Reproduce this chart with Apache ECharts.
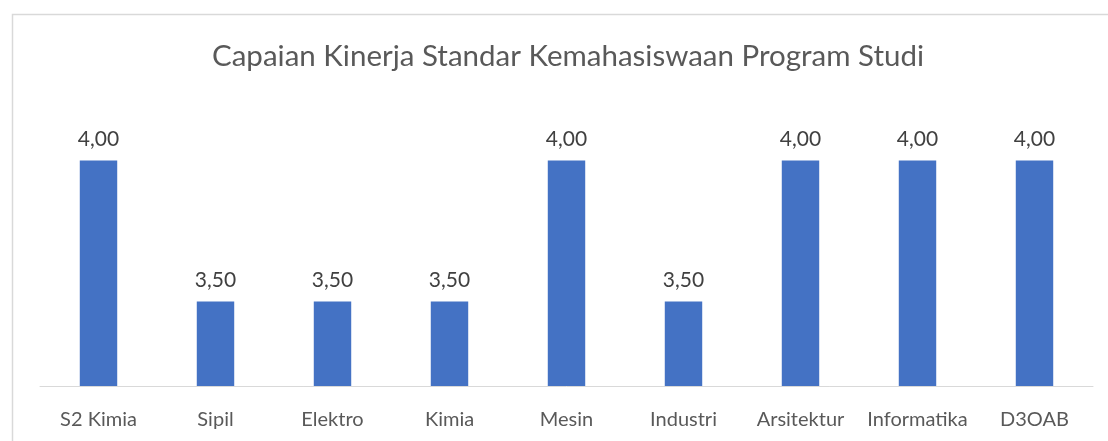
<!DOCTYPE html>
<html>
<head>
<meta charset="utf-8">
<script src="https://cdn.jsdelivr.net/npm/echarts@6/dist/echarts.min.js"></script>
<style>
  html, body { margin: 0; padding: 0; background: #fff; }
  #main { width: 1108px; height: 441px; }
</style>
</head>
<body>
<div id="main"></div>
<script>
const categories = ["S2 Kimia", "Sipil", "Elektro", "Kimia", "Mesin", "Industri", "Arsitektur", "Informatika", "D3OAB"];
const scores = [4.0, 3.5, 3.5, 3.5, 4.0, 3.5, 4.0, 4.0, 4.0];
const titleText = "Capaian Kinerja Standar Kemahasiswaan Program Studi";

const font = "Lato, 'Noto Sans', sans-serif";

var chart = echarts.init(document.getElementById("main"));
var option = {
  animation: false,
  title: {
    text: titleText,
    left: 207,
    top: 36,
    textStyle: {
      fontFamily: font,
      fontSize: 29.5,
      fontWeight: "normal",
      color: "#595959"
    }
  },
  graphic: [
    {
      type: "rect",
      left: 10,
      top: 12,
      shape: { width: 1110, height: 440 },
      style: { fill: "none", stroke: "#d9d9d9", lineWidth: 1.5 }
    }
  ],
  grid: { left: 40, right: 15, top: 104, bottom: 55 },
  xAxis: {
    type: "category",
    data: categories,
    axisTick: { show: false },
    axisLine: { lineStyle: { color: "#d9d9d9", width: 1 } },
    axisLabel: {
      interval: 0,
      margin: 24,
      fontFamily: font,
      fontSize: 20,
      color: "#595959"
    }
  },
  yAxis: {
    type: "value",
    min: 3.2,
    max: 4.2,
    show: false,
    splitLine: { show: false }
  },
  series: [
    {
      type: "bar",
      data: scores,
      barWidth: "32%",
      itemStyle: { color: "#4472c4" },
      label: {
        show: true,
        position: "top",
        distance: 11,
        fontFamily: font,
        fontSize: 21,
        color: "#404040",
        formatter: function (p) {
          return p.value.toFixed(2).replace(".", ",");
        }
      }
    }
  ]
};

chart.setOption(option);
</script>
</body>
</html>
